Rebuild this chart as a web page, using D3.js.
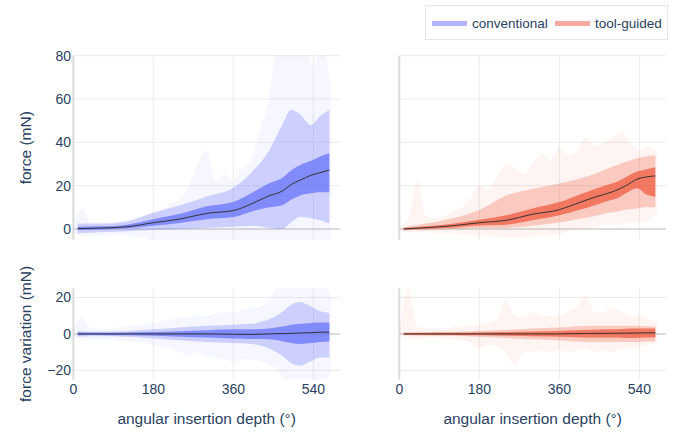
<!DOCTYPE html>
<html>
<head>
<meta charset="utf-8">
<script src="https://cdn.jsdelivr.net/npm/d3@7"></script>
<style>
  body { margin: 0; background: #fff; }
  svg { display: block; font-family: "Liberation Sans", Arial, sans-serif; }
  text { fill: #2a3f5f; }
</style>
</head>
<body>
<div id="chart"></div>
<script>
// depth grid for the summary bands (degrees)
const depth = [10, 60, 120, 180, 240, 300, 360, 400, 440, 470, 490, 510, 535, 555, 576];
// depth grid for the envelope of raw recordings
const rawDepth = [0, 20, 40, 60, 80, 100, 120, 140, 160, 180, 200, 220, 240, 260, 280, 300, 320, 340, 360, 380, 400, 420, 440, 460, 480, 500, 520, 540, 560, 580];

// force, conventional
const convMean   = [0.2, 0.4, 1.0, 2.9, 4.6, 7.2, 8.5, 11.5, 15.3, 17.5, 20.5, 22.5, 24.8, 26.0, 27.2];
const convInHi   = [1.0, 1.2, 2.0, 4.5, 7.0, 10.5, 12.5, 16.5, 21.0, 23.5, 27.0, 29.5, 31.5, 33.5, 35.0];
const convInLo   = [-0.5, -0.3, 0.3, 1.5, 2.8, 4.5, 5.5, 8.0, 10.0, 11.0, 13.5, 15.5, 16.5, 17.0, 17.0];
const convOutHi  = [2.5, 2.5, 3.5, 7.5, 11, 15, 19, 26, 36, 48, 55, 53, 48, 52, 55];
const convOutLo  = [-2, -1.5, -1, -0.5, 0, 0.5, 1, 1.5, 0.5, 0, 3, 5.5, 5, 4, 2.5];
const convRawHi  = [3, 9, 3, 3, 3, 3.5, 4, 5, 6, 8, 9, 12, 14, 20, 30, 36, 22, 25, 22, 28, 32, 45, 60, 85, 85, 80, 85, 75, 85, 62];
const convRawLo  = [-2, -3, -3, -3, -3, -3, -3, -4, -4, -6, -6, -6, -6, -6, -6, -6, -6, -6, -6, -6, -6, -6, -6, -6, -6, -6, -6, -6, -6, -6];

// force, tool-guided
const toolMean   = [0.0, 0.6, 1.5, 2.9, 4.0, 6.8, 8.9, 11.8, 14.7, 16.5, 18.0, 20.0, 23.0, 24.0, 24.5];
const toolInHi   = [0.4, 1.2, 2.4, 4.2, 6.3, 9.5, 12.4, 15.5, 18.5, 20.5, 21.8, 24.0, 26.5, 27.5, 28.5];
const toolInLo   = [-0.3, 0.1, 0.6, 1.6, 2.0, 4.0, 6.3, 8.5, 11.0, 13.0, 14.2, 16.5, 18.8, 16.0, 14.9];
const toolOutHi  = [0.8, 2.5, 5.0, 8.8, 15.5, 18.5, 21.0, 23.0, 25.5, 28.0, 29.5, 31.0, 32.6, 33.5, 34.0];
const toolOutLo  = [-0.8, -0.5, 0, 0.5, 0.5, 1.5, 3.0, 4.5, 6.0, 7.5, 8.0, 9.0, 9.5, 10, 10];
const toolRawHi  = [1, 5, 22, 6, 5, 6, 8, 10, 14, 20, 18, 24, 30, 28, 25, 30, 35, 32, 38, 34, 36, 42, 38, 40, 42, 45, 40, 36, 38, 35];
const toolRawLo  = [-1, -1.5, -1.5, -1.5, -2, -2, -2, -2.5, -3, -3, -3, -3.5, -4, -4, -4, -3.5, -3, -3, -2, -1, 0, 0, 1, 2, 2, 2, 3, 3, 4, 8];

// force variation, conventional
const convVarMean  = [0, 0, 0, 0, 0, 0, -0.2, -0.3, 0, 0.2, 0.3, 0.5, 0.7, 0.9, 1.0];
const convVarInHi  = [0.8, 0.6, 0.8, 1.0, 1.5, 2.0, 2.5, 2.5, 3.0, 4.0, 5.0, 5.5, 6.0, 6.2, 6.2];
const convVarInLo  = [-0.8, -0.6, -0.8, -1.0, -1.5, -2.0, -2.5, -2.8, -3.0, -4.0, -5.0, -5.5, -5.0, -4.5, -4.2];
const convVarOutHi = [1.5, 1.3, 1.5, 2.5, 3.5, 4.5, 5.0, 5.5, 8, 12, 16, 17.5, 15, 12.5, 11.5];
const convVarOutLo = [-1.5, -1.3, -1.5, -2.5, -3.5, -4.5, -5, -5.5, -8, -12, -16, -17.5, -15, -13, -13];
const convVarRawHi = [2, 9, 3, 3, 3, 3.5, 4, 4.5, 5, 6, 7, 8, 9, 9, 10, 10, 11, 12, 12, 13, 14, 15, 18, 26, 28, 28, 28, 28, 28, 20];
const convVarRawLo = [-2, -3, -3, -3, -3, -3.5, -4, -4.5, -5, -6, -7, -8, -10, -12, -10, -12, -13, -14, -15, -14, -14, -15, -17, -20, -27, -28, -28, -28, -28, -20];

// force variation, tool-guided
const toolVarMean  = [0, 0, 0, 0, 0, 0, 0, 0.2, 0.3, 0.3, 0.4, 0.4, 0.5, 0.6, 0.6];
const toolVarInHi  = [0.4, 0.5, 0.6, 0.8, 1.0, 1.3, 1.6, 2.0, 2.3, 2.5, 2.5, 2.8, 3.0, 3.0, 3.0];
const toolVarInLo  = [-0.4, -0.5, -0.6, -0.8, -1.0, -1.3, -1.6, -1.8, -2.0, -2.0, -2.0, -2.2, -2.2, -2.0, -2.0];
const toolVarOutHi = [0.8, 1, 1.2, 1.6, 2.2, 3, 3.5, 4.2, 4.5, 4.5, 4.5, 4.5, 4.5, 4.2, 4];
const toolVarOutLo = [-0.8, -1, -1.2, -1.6, -2.2, -3, -3.5, -4.2, -4.5, -4.5, -4.5, -4.5, -4.5, -4.2, -4];
const toolVarRawHi = [1, 25, 4, 3, 3, 3, 3.5, 4, 4.5, 5, 6, 8, 18, 10, 9, 12, 10, 10, 10, 12, 15, 21, 12, 12, 14, 12, 10, 10, 8, 6];
const toolVarRawLo = [-1, -2, -3, -2, -2, -2.5, -3, -3.5, -5, -8, -6, -7, -10, -17, -10, -10, -9, -10, -9, -10, -9, -8, -10, -9, -10, -8, -8, -7, -6, -5];

const xTicks = [0, 180, 360, 540];
const forceTicks = [0, 20, 40, 60, 80];
const varTicks = [-20, 0, 20];
const groups = ['conventional', 'tool-guided'];
const colors = {'conventional': '#636efa', 'tool-guided': '#ef553b'};

const svg = d3.select('#chart').append('svg').attr('width', 674).attr('height', 434);

const xLeft = d3.scaleLinear().domain([0, 600]).range([73.3, 340]);
const xRight = d3.scaleLinear().domain([0, 600]).range([399.3, 666]);
const yForce = d3.scaleLinear().domain([-5, 80]).range([239.8, 55.7]);
const yVar = d3.scaleLinear().domain([-25, 25]).range([379.5, 288.3]);

const panels = [
    {id: 'p1', x: xLeft, y: yForce, ticks: forceTicks, color: colors['conventional'], yLabels: true, xLabels: false,
     mean: convMean, inHi: convInHi, inLo: convInLo, outHi: convOutHi, outLo: convOutLo, rawHi: convRawHi, rawLo: convRawLo},
    {id: 'p2', x: xRight, y: yForce, ticks: forceTicks, color: colors['tool-guided'], yLabels: false, xLabels: false,
     mean: toolMean, inHi: toolInHi, inLo: toolInLo, outHi: toolOutHi, outLo: toolOutLo, rawHi: toolRawHi, rawLo: toolRawLo},
    {id: 'p3', x: xLeft, y: yVar, ticks: varTicks, color: colors['conventional'], yLabels: true, xLabels: true,
     mean: convVarMean, inHi: convVarInHi, inLo: convVarInLo, outHi: convVarOutHi, outLo: convVarOutLo, rawHi: convVarRawHi, rawLo: convVarRawLo},
    {id: 'p4', x: xRight, y: yVar, ticks: varTicks, color: colors['tool-guided'], yLabels: false, xLabels: true,
     mean: toolVarMean, inHi: toolVarInHi, inLo: toolVarInLo, outHi: toolVarOutHi, outLo: toolVarOutLo, rawHi: toolVarRawHi, rawLo: toolVarRawLo}
];

const fmt = d => d < 0 ? '\u2212' + Math.abs(d) : String(d);

panels.forEach(p => {
    const [x0, x1] = p.x.range();
    const [y0, y1] = p.y.range();
    svg.append('clipPath').attr('id', 'clip-' + p.id)
        .append('rect').attr('x', x0).attr('y', y1).attr('width', x1 - x0).attr('height', y0 - y1);

    const g = svg.append('g');

    // grid
    g.selectAll('.gx').data(xTicks.filter(t => t !== 0)).enter().append('line')
        .attr('x1', d => p.x(d)).attr('x2', d => p.x(d)).attr('y1', y1).attr('y2', y0)
        .attr('stroke', '#ebebeb').attr('stroke-width', 1);
    g.selectAll('.gy').data(p.ticks.filter(t => t !== 0)).enter().append('line')
        .attr('x1', x0).attr('x2', x1).attr('y1', d => p.y(d)).attr('y2', d => p.y(d))
        .attr('stroke', '#ebebeb').attr('stroke-width', 1);
    // zero lines
    g.append('line').attr('x1', p.x(0)).attr('x2', p.x(0)).attr('y1', y1).attr('y2', y0)
        .attr('stroke', '#dcdcdc').attr('stroke-width', 2);
    g.append('line').attr('x1', x0).attr('x2', x1).attr('y1', p.y(0)).attr('y2', p.y(0))
        .attr('stroke', '#dcdcdc').attr('stroke-width', 2);

    const data = g.append('g').attr('clip-path', `url(#clip-${p.id})`);

    const rawArea = d3.area().curve(d3.curveMonotoneX)
        .x((d, i) => p.x(rawDepth[i])).y0((d, i) => p.y(p.rawLo[i])).y1(d => p.y(d));
    const band = (hi, lo) => d3.area().curve(d3.curveMonotoneX)
        .x((d, i) => p.x(depth[i])).y0((d, i) => p.y(lo[i])).y1(d => p.y(d));

    data.append('path').datum(p.rawHi).attr('d', rawArea)
        .attr('fill', p.color).attr('fill-opacity', 0.06);
    data.append('path').datum(p.outHi).attr('d', band(p.outHi, p.outLo))
        .attr('fill', p.color).attr('fill-opacity', 0.28);
    data.append('path').datum(p.inHi).attr('d', band(p.inHi, p.inLo))
        .attr('fill', p.color).attr('fill-opacity', 0.7);
    data.append('path').datum(p.mean)
        .attr('d', d3.line().curve(d3.curveMonotoneX).x((d, i) => p.x(depth[i])).y(d => p.y(d)))
        .attr('fill', 'none').attr('stroke', '#333').attr('stroke-width', 1);

    if (p.yLabels) {
        g.selectAll('.yl').data(p.ticks).enter().append('text')
            .attr('x', 71).attr('y', d => p.y(d)).attr('dy', '0.36em')
            .attr('text-anchor', 'end').attr('font-size', 14).text(fmt);
    }
    if (p.xLabels) {
        g.selectAll('.xl').data(xTicks).enter().append('text')
            .attr('x', d => p.x(d)).attr('y', 394)
            .attr('text-anchor', 'middle').attr('font-size', 14).text(d => d);
        g.append('text').attr('x', (x0 + x1) / 2).attr('y', 424)
            .attr('text-anchor', 'middle').attr('font-size', 15.5).text('angular insertion depth (°)');
    }
});

// y titles
svg.append('text').attr('transform', `translate(31,${(yForce.range()[0] + yForce.range()[1]) / 2}) rotate(-90)`)
    .attr('text-anchor', 'middle').attr('font-size', 15.5).text('force (mN)');
svg.append('text').attr('transform', `translate(31,${(yVar.range()[0] + yVar.range()[1]) / 2}) rotate(-90)`)
    .attr('text-anchor', 'middle').attr('font-size', 15.5).text('force variation (mN)');

// legend
const legend = svg.append('g');
legend.append('rect').attr('x', 425.5).attr('y', 5.5).attr('width', 242).attr('height', 34)
    .attr('fill', '#fff').attr('stroke', '#e6e6e6').attr('stroke-width', 1);
const legendX = [432, 555];
groups.forEach((k, i) => {
    legend.append('rect').attr('x', legendX[i]).attr('y', 21).attr('width', 35).attr('height', 5)
        .attr('fill', colors[k]).attr('fill-opacity', 0.5);
    legend.append('text').attr('x', legendX[i] + 40).attr('y', 28)
        .attr('font-size', 13.5).text(k);
});
</script>
</body>
</html>
